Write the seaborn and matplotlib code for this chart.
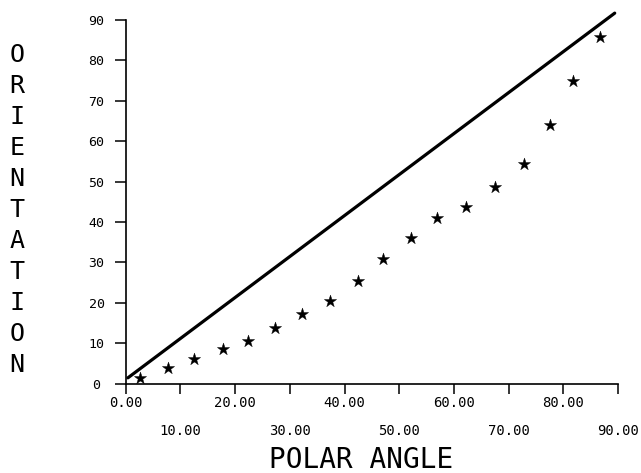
import matplotlib
matplotlib.use("Agg")
import matplotlib.pyplot as plt
import seaborn as sns
import pandas as pd

# Data
star_x = [2.6, 7.8, 12.5, 17.8, 22.3, 27.3, 32.3, 37.3, 42.4, 47.1,
          52.1, 57.0, 62.3, 67.5, 72.9, 77.5, 81.8, 86.7]
star_y = [1.3, 3.8, 6.1, 8.6, 10.6, 13.7, 17.2, 20.4, 25.4, 30.8,
          36.0, 41.0, 43.8, 48.7, 54.4, 64.1, 74.8, 85.8]
line_x = [0.4, 89.4]
line_y = [1.4, 91.7]
x_major = [0, 20, 40, 60, 80]
x_minor = [10, 30, 50, 70, 90]
y_ticks = [0, 10, 20, 30, 40, 50, 60, 70, 80, 90]

sns.set_style("ticks")
plt.rcParams['font.family'] = ['DejaVu Sans Mono', 'DejaVu Sans']

fig = plt.figure(figsize=(6.41, 4.73), dpi=100)
ax = fig.add_axes([125.7 / 641, 89.5 / 473, (618 - 125.7) / 641, (383.5 - 20) / 473])

df_line = pd.DataFrame({"x": line_x, "y": line_y})
df_star = pd.DataFrame({"x": star_x, "y": star_y})
sns.lineplot(data=df_line, x="x", y="y", ax=ax, color="black", linewidth=2.3,
             clip_on=False)
sns.scatterplot(data=df_star, x="x", y="y", ax=ax, marker="*", s=85,
                color="black", edgecolor="black", linewidth=0.3, clip_on=False)

ax.set_xlim(0, 90)
ax.set_ylim(0, 90)
for s in ["top", "right"]:
    ax.spines[s].set_visible(False)
for s in ["left", "bottom"]:
    ax.spines[s].set_linewidth(1.2)
    ax.spines[s].set_color("black")

ax.set_xticks(x_major)
ax.set_xticklabels([f"{v:.2f}" for v in x_major])
ax.set_xticks(x_minor, minor=True)
ax.set_xticklabels([f"{v:.2f}" for v in x_minor], minor=True)
ax.tick_params(axis="x", which="major", length=7, width=1.1, pad=2,
               labelsize=10, colors="black", direction="out")
ax.tick_params(axis="x", which="minor", length=7, width=1.1, pad=22,
               labelsize=10, colors="black", direction="out")

ax.set_yticks(y_ticks)
ax.set_yticklabels([str(v) for v in y_ticks])
ax.tick_params(axis="y", length=8, width=1.1, pad=13, labelsize=9.5,
               colors="black", direction="out")
for lbl in ax.get_yticklabels():
    lbl.set_horizontalalignment("center")

ax.set_xlabel("")
ax.set_ylabel("")
fig.text(361 / 641, 1 - 460 / 473, "POLAR ANGLE", ha="center", va="center",
         fontsize=20, color="black")
fig.text(17 / 641, 1 - 210 / 473, "\n".join("ORIENTATION"), ha="center",
         va="center", multialignment="center", fontsize=18, linespacing=1.37,
         color="black")

fig.savefig("out.png", dpi=100, facecolor="white")
